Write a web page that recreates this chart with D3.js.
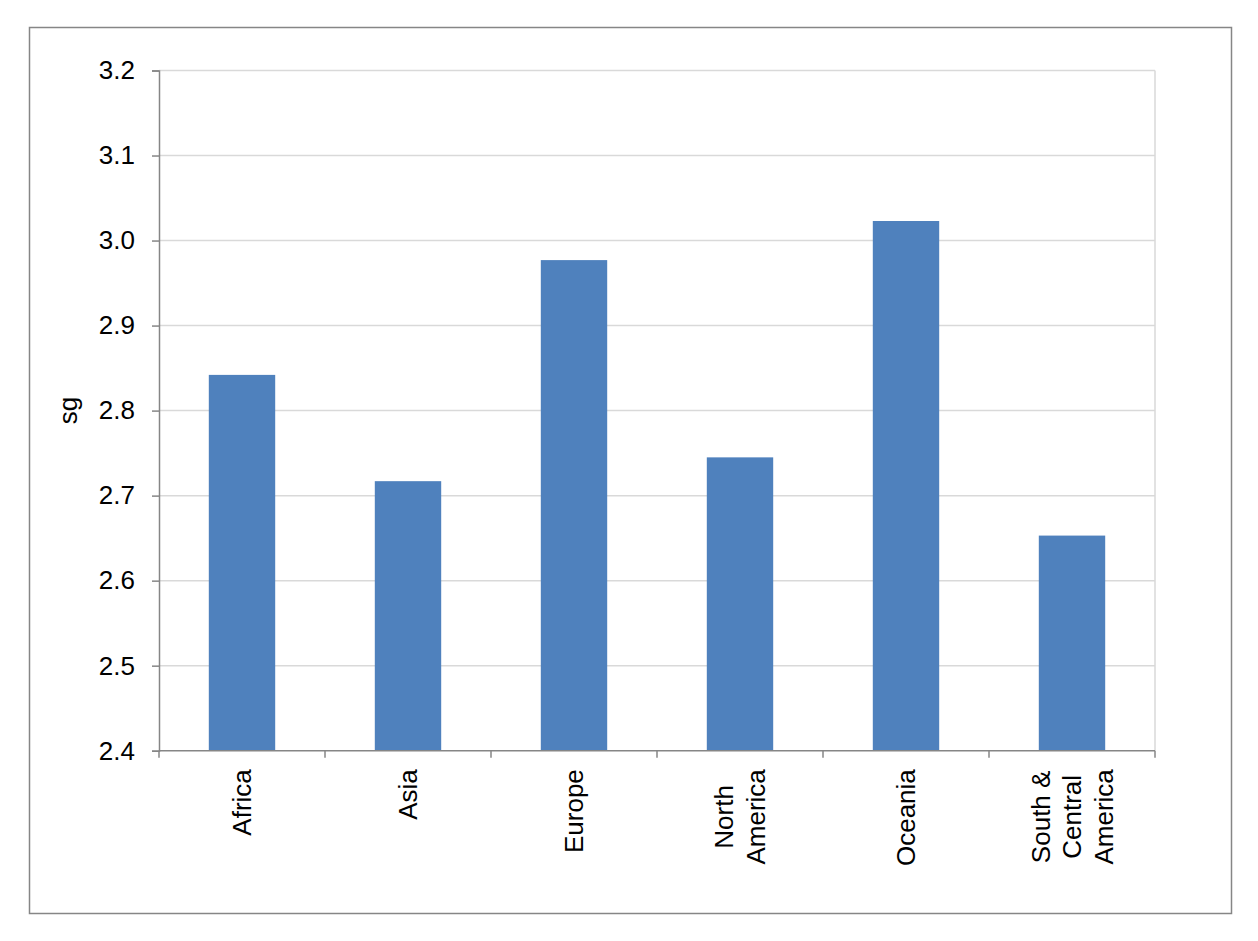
<!DOCTYPE html>
<html>
<head>
<meta charset="utf-8">
<script src="https://cdn.jsdelivr.net/npm/d3@7"></script>
<style>
  body { margin: 0; background: #fff; }
  text { font-family: "Liberation Sans", Arial, sans-serif; fill: #000; }
</style>
</head>
<body>
<svg id="chart"></svg>
<script>
// data
const regions = ["Africa", "Asia", "Europe", "North America", "Oceania", "South & Central America"];
const regionLines = [["Africa"], ["Asia"], ["Europe"], ["North", "America"], ["Oceania"], ["South &", "Central", "America"]];
const sgValues = [2.842, 2.717, 2.977, 2.745, 3.023, 2.653];
const yTicks = [2.4, 2.5, 2.6, 2.7, 2.8, 2.9, 3.0, 3.1, 3.2];

// layout
const W = 1258, H = 941;
const margin = { top: 70.5, left: 159, right: 103, bottom: 190.3 };
const width = W - margin.left - margin.right;
const height = H - margin.top - margin.bottom;

const svg = d3.select('#chart')
    .attr('width', W)
    .attr('height', H);

// outer chart border
svg.append('rect')
    .attr('x', 29.5).attr('y', 27.5)
    .attr('width', 1202).attr('height', 886)
    .attr('fill', 'none')
    .attr('stroke', '#868686')
    .attr('stroke-width', 1.5);

const g = svg.append('g')
    .attr('transform', 'translate(' + margin.left + ',' + margin.top + ')');

const x = d3.scaleBand()
    .domain(regions)
    .range([0, width])
    .paddingInner(0.6)
    .paddingOuter(0.3);

const y = d3.scaleLinear()
    .domain([2.4, 3.2])
    .range([height, 0]);

// gridlines
g.append('g')
    .selectAll('line')
    .data(yTicks.slice(1))
    .join('line')
    .attr('x1', 0).attr('x2', width)
    .attr('y1', d => y(d)).attr('y2', d => y(d))
    .attr('stroke', '#d9d9d9')
    .attr('stroke-width', 1.5);

g.append('line')
    .attr('x1', width).attr('x2', width)
    .attr('y1', 0).attr('y2', height)
    .attr('stroke', '#d9d9d9')
    .attr('stroke-width', 1.5);

// bars
g.append('g')
    .selectAll('rect')
    .data(sgValues)
    .join('rect')
    .attr('x', (d, i) => x(regions[i]))
    .attr('width', x.bandwidth())
    .attr('y', d => y(d))
    .attr('height', d => height - y(d))
    .attr('fill', '#4f81bd');

// y axis
const yAxis = g.append('g')
    .call(d3.axisLeft(y).tickValues(yTicks).tickFormat(d3.format('.1f')).tickSize(7).tickPadding(17));
yAxis.select('.domain').attr('stroke', '#868686').attr('stroke-width', 1.5);
yAxis.selectAll('.tick line').attr('stroke', '#868686').attr('stroke-width', 1.5);
yAxis.selectAll('.tick text')
    .attr('font-size', 26)
    .style('font-family', '"Liberation Sans", Arial, sans-serif');

// x axis: ticks on category boundaries
const step = x.step();
const bounds = d3.range(regions.length + 1).map(i => i * step);
g.append('line')
    .attr('x1', 0).attr('x2', width)
    .attr('y1', height).attr('y2', height)
    .attr('stroke', '#868686')
    .attr('stroke-width', 1.5);
g.append('g')
    .selectAll('line')
    .data(bounds)
    .join('line')
    .attr('x1', d => d).attr('x2', d => d)
    .attr('y1', height).attr('y2', height + 7)
    .attr('stroke', '#868686')
    .attr('stroke-width', 1.5);

// x labels, rotated, multi-line centred
const lineGap = 31.5;
const labelTop = height + 18.5;
regions.forEach((r, i) => {
    const lines = regionLines[i];
    const cx = x(r) + x.bandwidth() / 2;
    const grp = g.append('g');
    const texts = grp.selectAll('text')
        .data(lines)
        .join('text')
        .attr('font-size', 26)
        .attr('text-anchor', 'middle')
        .attr('dy', '0.35em')
        .text(d => d);
    const maxLen = d3.max(texts.nodes(), n => n.getComputedTextLength());
    texts.attr('transform', (d, k) => {
        const lx = cx + (k - (lines.length - 1) / 2) * lineGap;
        return 'translate(' + lx + ',' + (labelTop + maxLen / 2) + ') rotate(-90)';
    });
});

// y title
svg.append('text')
    .attr('transform', 'translate(77,' + (margin.top + height / 2) + ') rotate(-90)')
    .attr('text-anchor', 'middle')
    .attr('font-size', 26)
    .text('sg');
</script>
</body>
</html>
